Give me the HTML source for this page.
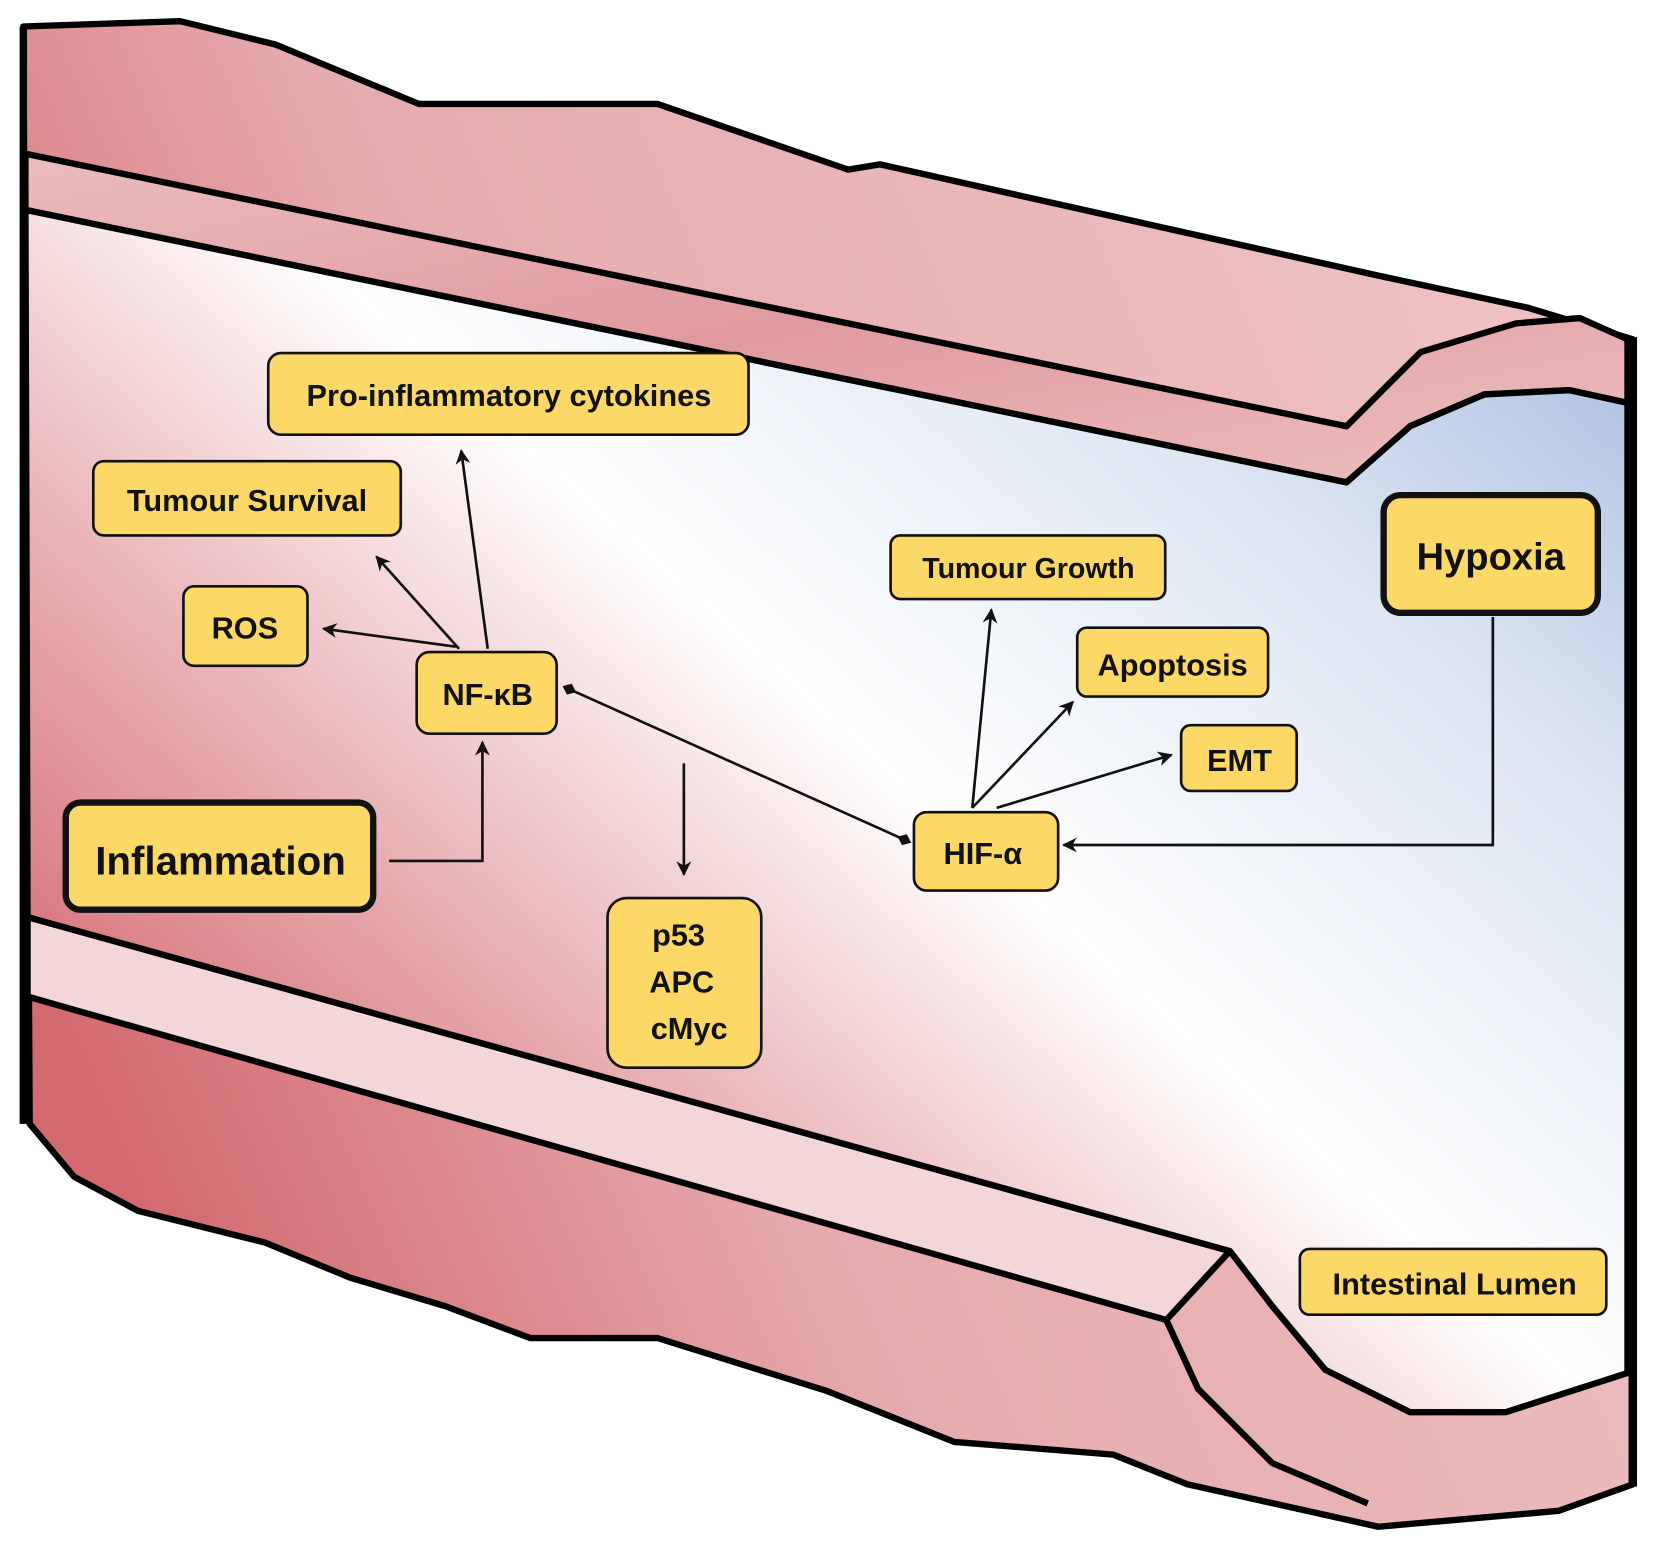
<!DOCTYPE html>
<html><head><meta charset="utf-8"><style>
html,body{margin:0;padding:0;background:#fff;width:1654px;height:1549px;overflow:hidden}
svg{display:block}
text{font-family:"Liberation Sans",sans-serif;font-weight:bold;fill:#111}
</style></head><body>
<svg width="1654" height="1549" viewBox="0 0 1560 1461" preserveAspectRatio="none" xmlns="http://www.w3.org/2000/svg">
<defs>
<linearGradient id="wall" x1="0" y1="0.6" x2="1" y2="0.2">
<stop offset="0" stop-color="#d36a70"/><stop offset="0.35" stop-color="#e6aaad"/><stop offset="1" stop-color="#efc4c5"/>
</linearGradient>
<linearGradient id="wall2" x1="0" y1="0" x2="1" y2="1">
<stop offset="0" stop-color="#ebbcbe"/><stop offset="0.5" stop-color="#e09a9e"/><stop offset="1" stop-color="#eec0c1"/>
</linearGradient>
<linearGradient id="lumen" x1="0.05" y1="0.85" x2="1" y2="0.05">
<stop offset="0" stop-color="#cf5a62"/><stop offset="0.25" stop-color="#e6a8ab"/><stop offset="0.5" stop-color="#ffffff"/><stop offset="0.75" stop-color="#dfe7f3"/><stop offset="1" stop-color="#a6bcdf"/>
</linearGradient>
<marker id="ah" viewBox="0 0 10 10" refX="9" refY="5" markerWidth="16" markerHeight="14" orient="auto-start-reverse" markerUnits="userSpaceOnUse"><path d="M0,0 L10,5 L0,10 L3,5 z" fill="#111"/></marker>
<marker id="dm" viewBox="0 0 10 10" refX="5" refY="5" markerWidth="14" markerHeight="14" orient="auto" markerUnits="userSpaceOnUse"><path d="M0,5 L5,1 L10,5 L5,9 z" fill="#111"/></marker>
</defs>
<path d="M22,25 L170,20 L260,42 L395,98 L620,98 L800,160 L830,155 L1300,260 L1440,290 L1540,320 L1540,1400 L1470,1425 L1300,1440 L1120,1400 L1050,1372 L900,1360 L780,1312 L620,1262 L500,1262 L420,1232 L330,1205 L250,1172 L130,1142 L70,1110 L28,1060 Z" fill="url(#wall)" stroke="#000" stroke-width="6" stroke-linejoin="round"/>
<path d="M24,145 L1270,402 L1340,332 L1430,305 L1490,300 L1535,320 L1535,380 L1480,368 L1400,372 L1330,402 L1270,455 L24,198 Z" fill="url(#wall2)" stroke="#000" stroke-width="6" stroke-linejoin="round"/>
<path d="M26,865 L1160,1180 L1100,1245 L26,940 Z" fill="#f3d6d7" stroke="#000" stroke-width="6" stroke-linejoin="round"/>
<path d="M24,198 L1270,455 L1330,402 L1400,372 L1480,368 L1535,380 L1535,1295 L1420,1332 L1330,1332 L1250,1292 L1200,1232 L1160,1180 L26,865 Z" fill="url(#lumen)" stroke="#000" stroke-width="6" stroke-linejoin="round"/>
<path d="M1100,1245 L1130,1310 L1200,1380 L1290,1418" fill="none" stroke="#000" stroke-width="6"/>
<path d="M22,25 L22,1060" stroke="#000" stroke-width="7"/>
<path d="M1540,318 L1540,1402" stroke="#000" stroke-width="8"/>
<g stroke="#111" stroke-width="2.5" fill="none">
<line x1="460" y1="612" x2="435" y2="425" marker-end="url(#ah)"/>
<line x1="433" y1="612" x2="355" y2="525" marker-end="url(#ah)"/>
<line x1="430" y1="610" x2="305" y2="593" marker-end="url(#ah)"/>
<polyline points="367,812 455,812 455,700" marker-end="url(#ah)"/>
<line x1="645" y1="720" x2="645" y2="825" marker-end="url(#ah)"/>
<line x1="537" y1="650" x2="853" y2="792" marker-start="url(#dm)" marker-end="url(#dm)"/>
<line x1="917" y1="762" x2="935" y2="575" marker-end="url(#ah)"/>
<line x1="917" y1="762" x2="1012" y2="662" marker-end="url(#ah)"/>
<line x1="940" y1="762" x2="1105" y2="712" marker-end="url(#ah)"/>
<polyline points="1408,582 1408,797 1003,797" marker-end="url(#ah)"/>
</g>
<g fill="#fcd966" stroke="#111" stroke-width="2.5">
<rect x="253" y="333" width="453" height="77" rx="12"/>
<rect x="88" y="435" width="290" height="70" rx="10"/>
<rect x="173" y="553" width="117" height="75" rx="10"/>
<rect x="393" y="615" width="132" height="77" rx="12"/>
<rect x="62" y="757" width="290" height="101" rx="14" stroke-width="6"/>
<rect x="573" y="847" width="145" height="160" rx="18"/>
<rect x="840" y="505" width="259" height="60" rx="9"/>
<rect x="1016" y="592" width="180" height="65" rx="9"/>
<rect x="1114" y="684" width="109" height="62" rx="9"/>
<rect x="862" y="766" width="136" height="74" rx="12"/>
<rect x="1305" y="467" width="202" height="111" rx="16" stroke-width="6"/>
<rect x="1226" y="1178" width="289" height="62" rx="9"/>
</g>
<g text-anchor="middle">
<text x="480" y="383" font-size="29">Pro-inflammatory cytokines</text>
<text x="233" y="482" font-size="29">Tumour Survival</text>
<text x="231" y="602" font-size="29">ROS</text>
<text x="460" y="665" font-size="29">NF-κB</text>
<text x="208" y="825" font-size="38">Inflammation</text>
<text x="640" y="892" font-size="29">p53</text>
<text x="643" y="936" font-size="29">APC</text>
<text x="650" y="980" font-size="29">cMyc</text>
<text x="970" y="545" font-size="27">Tumour Growth</text>
<text x="1106" y="637" font-size="29">Apoptosis</text>
<text x="1169" y="727" font-size="29">EMT</text>
<text x="927" y="815" font-size="29">HIF-α</text>
<text x="1406" y="537" font-size="36">Hypoxia</text>
<text x="1372" y="1221" font-size="29">Intestinal Lumen</text>
</g>
</svg>
</body></html>
